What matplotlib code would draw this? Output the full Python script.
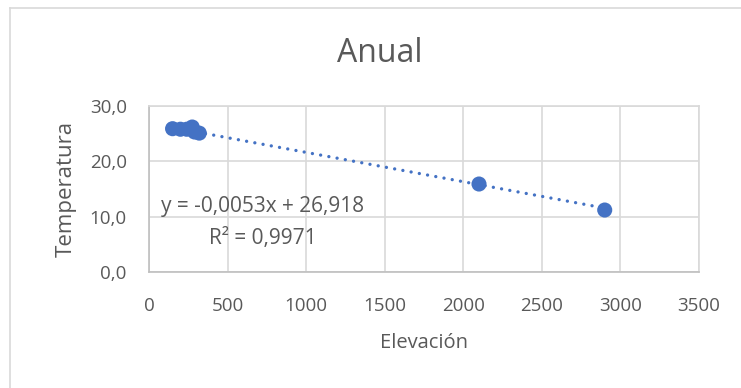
import matplotlib
matplotlib.use("Agg")
import matplotlib.pyplot as plt
from matplotlib.ticker import FuncFormatter
from matplotlib.lines import Line2D

# Station elevation (m) and mean annual temperature (°C)
elevacion = [150, 200, 240, 275, 290, 320, 2100, 2900]
temperatura = [25.9, 25.8, 25.8, 26.2, 25.3, 25.1, 15.9, 11.2]

# Linear trend reported on the chart
pendiente = -0.0053
intercepto = 26.918
r2 = 0.9971

x_ticks = [0, 500, 1000, 1500, 2000, 2500, 3000, 3500]
y_ticks = [0, 10, 20, 30]

azul = "#4472C4"
gris_texto = "#595959"
gris_rejilla = "#D9D9D9"
fuente = ["Open Sans", "DejaVu Sans"]

plt.rcParams["font.family"] = fuente

fig = plt.figure(figsize=(7.41, 3.88), dpi=100)
ax = fig.add_axes([149 / 741, 1 - 272 / 388, 550 / 741, 166 / 388])

# trend line across the observed elevation range
x0, x1 = min(elevacion), max(elevacion)
ax.plot([x0, x1], [pendiente * x0 + intercepto, pendiente * x1 + intercepto],
        color=azul, linewidth=2.4, linestyle=(0, (0.01, 2.5)),
        dash_capstyle="round", zorder=2)

ax.scatter(elevacion, temperatura, s=118, color=azul, edgecolors="none", zorder=3)

ax.set_xlim(0, 3500)
ax.set_ylim(0, 30)
ax.set_xticks(x_ticks)
ax.set_yticks(y_ticks)
ax.yaxis.set_major_formatter(FuncFormatter(lambda v, p: f"{v:.1f}".replace(".", ",")))
ax.xaxis.set_major_formatter(FuncFormatter(lambda v, p: f"{v:.0f}"))
ax.tick_params(axis="both", length=0, labelsize=13.5, colors=gris_texto)
ax.tick_params(axis="y", pad=16)
ax.tick_params(axis="x", pad=18)

ax.grid(True, color=gris_rejilla, linewidth=1.2)
ax.set_axisbelow(True)
for s in ax.spines.values():
    s.set_color(gris_rejilla)
    s.set_linewidth(1.2)
ax.spines["left"].set_color("#BFBFBF")
ax.spines["bottom"].set_color("#BFBFBF")

ax.set_xlabel("Elevación", fontsize=14.5, color=gris_texto, labelpad=13)
ax.set_ylabel("Temperatura", fontsize=16, color=gris_texto, labelpad=9)

eq = f"y = {pendiente:.4f}x + {intercepto:.3f}".replace(".", ",")
r2_txt = f"R² = {r2:.4f}".replace(".", ",")
ax.text(725, 8.95, eq + "\n" + r2_txt, ha="center", va="center",
        fontsize=15, color=gris_texto, linespacing=1.65, zorder=4)

fig.text(380 / 741, 1 - 54 / 388, "Anual", ha="center", va="center",
         fontsize=23, color=gris_texto)

# outer chart frame (top and left edges visible)
fig.add_artist(Line2D([10 / 741, 10 / 741], [0, 1 - 7.5 / 388],
                      transform=fig.transFigure, color=gris_rejilla, linewidth=1.2))
fig.add_artist(Line2D([10 / 741, 1], [1 - 7.5 / 388, 1 - 7.5 / 388],
                      transform=fig.transFigure, color=gris_rejilla, linewidth=1.2))

fig.savefig("out.png", dpi=100, facecolor="white")
